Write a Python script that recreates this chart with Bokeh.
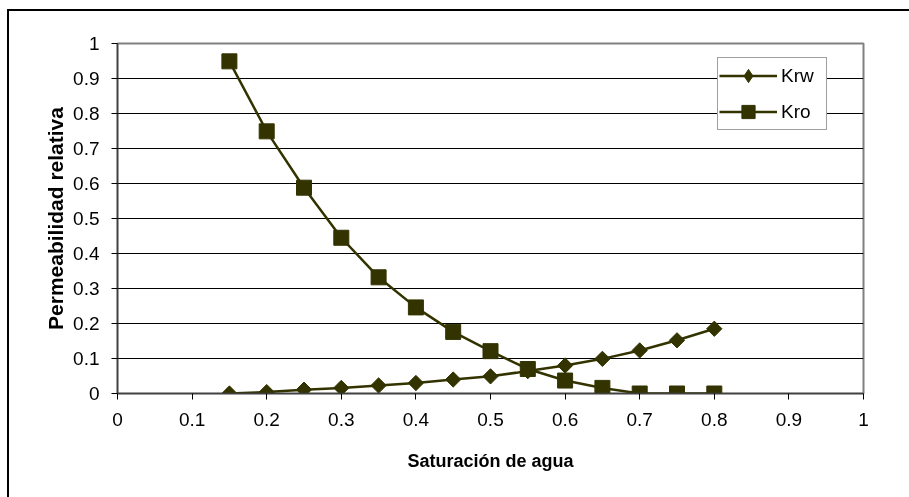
import numpy as np
from bokeh.plotting import figure
from bokeh.models import FixedTicker, Legend, LegendItem, Range1d
from bokeh.embed import file_html
from bokeh.resources import INLINE

# Data
sw = [0.15, 0.20, 0.25, 0.30, 0.35, 0.40, 0.45, 0.50, 0.55, 0.60, 0.65, 0.70, 0.75, 0.80]
krw = [0.000, 0.004, 0.011, 0.016, 0.023, 0.030, 0.040, 0.049, 0.064, 0.080, 0.099, 0.123, 0.152, 0.185]
kro = [0.949, 0.749, 0.588, 0.445, 0.332, 0.246, 0.176, 0.121, 0.070, 0.037, 0.016, 0.000, 0.000, 0.000]

x_ticks = [0.0, 0.1, 0.2, 0.3, 0.4, 0.5, 0.6, 0.7, 0.8, 0.9, 1.0]
x_tick_labels = ["0", "0.1", "0.2", "0.3", "0.4", "0.5", "0.6", "0.7", "0.8", "0.9", "1"]
y_ticks = [0.0, 0.1, 0.2, 0.3, 0.4, 0.5, 0.6, 0.7, 0.8, 0.9, 1.0]
y_tick_labels = ["0", "0.1", "0.2", "0.3", "0.4", "0.5", "0.6", "0.7", "0.8", "0.9", "1"]

series_names = ["Krw", "Kro"]
x_title = "Saturación de agua"
y_title = "Permeabilidad relativa"

FONT = "Liberation Sans"
LINE_COLOR = "#333300"

p = figure(width=920, height=500, output_backend="svg", toolbar_location=None,
           x_range=Range1d(0, 1), y_range=Range1d(0, 1),
           min_border_left=108, min_border_right=66, min_border_top=32, min_border_bottom=118)
p.styles = {"border-left": "2px solid #000000", "border-top": "2px solid #000000",
            "position": "fixed", "left": "7px", "top": "9px"}

p.background_fill_color = "white"
p.border_fill_color = "white"
p.outline_line_color = "#808080"
p.outline_line_width = 2

# grid
p.xgrid.grid_line_color = None
p.ygrid.ticker = FixedTicker(ticks=y_ticks)
p.ygrid.grid_line_color = "#000000"
p.ygrid.grid_line_width = 1

# axes
for ax, ticks, labels in ((p.xaxis[0], x_ticks, x_tick_labels), (p.yaxis[0], y_ticks, y_tick_labels)):
    ax.ticker = FixedTicker(ticks=ticks)
    ax.major_label_overrides = {t: l for t, l in zip(ticks, labels)}
    ax.minor_tick_line_color = None
    ax.major_tick_in = 0
    ax.major_tick_out = 6
    ax.major_tick_line_color = "#000000"
    ax.axis_line_color = "#404040"
    ax.axis_line_width = 1.5
    ax.major_label_text_font = FONT
    ax.major_label_text_font_size = "19px"
    ax.major_label_text_color = "#000000"
    ax.axis_label_text_font = FONT
    ax.axis_label_text_font_style = "bold"
    ax.axis_label_text_color = "#000000"

p.xaxis.axis_label = x_title
p.yaxis.axis_label = y_title
p.xaxis.axis_label_text_font_size = "18px"
p.yaxis.axis_label_text_font_size = "21px"
p.xaxis.major_label_standoff = 13
p.xaxis.axis_label_standoff = 22
p.yaxis.major_label_standoff = 12
p.yaxis.axis_label_standoff = 3

# series
lw = p.line(sw, krw, line_color=LINE_COLOR, line_width=2.5)
mw = p.scatter(sw, krw, marker="square", angle=np.pi / 4, size=10.8,
               fill_color=LINE_COLOR, line_color=LINE_COLOR)
lo = p.line(sw, kro, line_color=LINE_COLOR, line_width=2.5)
mo = p.scatter(sw, kro, marker="square", size=15,
               fill_color=LINE_COLOR, line_color=LINE_COLOR)

# legend-only diamond marker (legend glyphs are always drawn unrotated)
lg_w = p.scatter([-1.0], [-1.0], marker="diamond", size=15,
                 fill_color=LINE_COLOR, line_color=LINE_COLOR)

legend = Legend(items=[LegendItem(label=series_names[0], renderers=[lw, lg_w]),
                       LegendItem(label=series_names[1], renderers=[lo, mo])],
                location=(600, 263), orientation="vertical")
legend.padding = 1
legend.margin = 0
legend.spacing = 3
legend.glyph_width = 58
legend.glyph_height = 33
legend.label_standoff = 4
legend.label_width = 44
legend.label_text_font = FONT
legend.label_text_font_size = "19px"
legend.label_text_color = "#000000"
legend.border_line_color = "#404040"
legend.border_line_width = 1.5
legend.background_fill_color = "white"
legend.background_fill_alpha = 1
p.add_layout(legend, "center")

open("out.html", "w").write(file_html(p, INLINE))
